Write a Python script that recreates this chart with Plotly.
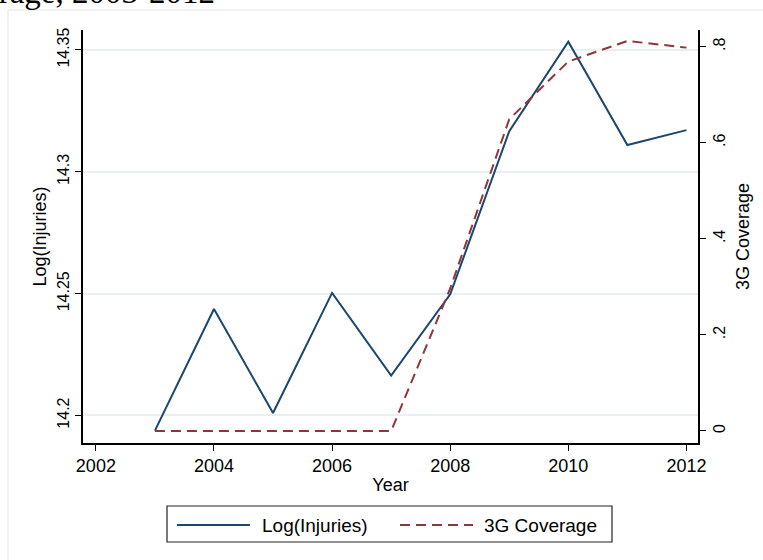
import plotly.graph_objects as go

# Annual series, 2003-2012
years = [2003, 2004, 2005, 2006, 2007, 2008, 2009, 2010, 2011, 2012]
log_injuries = [14.1938, 14.2437, 14.2010, 14.2503, 14.2164, 14.2497, 14.3167, 14.3534, 14.3110, 14.3171]
coverage_3g = [0.0, 0.0, 0.0, 0.0, 0.0, 0.2966, 0.649, 0.769, 0.812, 0.798]

x_ticks = [2002, 2004, 2006, 2008, 2010, 2012]
left_ticks = [14.2, 14.25, 14.3, 14.35]
left_tick_text = ["14.2", "14.25", "14.3", "14.35"]
right_ticks = [0, 0.2, 0.4, 0.6, 0.8]
right_tick_text = ["0", ".2", ".4", ".6", ".8"]

NAVY = "#1a476f"
MAROON = "#90353b"
GRID = "#e9f0f3"
FONT = "Liberation Sans, Arial, sans-serif"

W, H = 763, 560
ML, MR, MT, MB = 83, 65, 30, 117
PW, PH = W - ML - MR, H - MT - MB


def px_x(x):
    return (x - ML) / PW


def px_y(y):
    return (H - MB - y) / PH


fig = go.Figure()
fig.add_trace(go.Scatter(
    x=years, y=log_injuries, mode="lines", name="Log(Injuries)",
    line=dict(color=NAVY, width=2), yaxis="y", showlegend=False,
))
fig.add_trace(go.Scatter(
    x=years, y=coverage_3g, mode="lines", name="3G Coverage",
    line=dict(color=MAROON, width=2, dash="10px,6px"), yaxis="y2", showlegend=False,
))

shapes = []
annotations = []

# outer graph-region frame
shapes.append(dict(type="line", xref="paper", yref="paper",
                   x0=px_x(8), x1=px_x(W + 5), y0=px_y(10), y1=px_y(10),
                   line=dict(color="#eceeee", width=1.5)))
shapes.append(dict(type="line", xref="paper", yref="paper",
                   x0=px_x(8), x1=px_x(8), y0=px_y(10), y1=px_y(H + 5),
                   line=dict(color="#eceeee", width=1.5)))

# legend box
shapes.append(dict(type="rect", xref="paper", yref="paper",
                   x0=px_x(167), x1=px_x(612), y0=px_y(506), y1=px_y(542),
                   line=dict(color="#222222", width=1.2), fillcolor="white"))
shapes.append(dict(type="line", xref="paper", yref="paper",
                   x0=px_x(177), x1=px_x(250), y0=px_y(525), y1=px_y(525),
                   line=dict(color=NAVY, width=2)))
shapes.append(dict(type="line", xref="paper", yref="paper",
                   x0=px_x(400), x1=px_x(473), y0=px_y(525), y1=px_y(525),
                   line=dict(color=MAROON, width=2, dash="10px,6px")))
annotations.append(dict(text="Log(Injuries)", xref="paper", yref="paper",
                        x=px_x(260), y=px_y(525), xanchor="left", yanchor="middle",
                        showarrow=False, font=dict(family=FONT, size=19, color="black")))
annotations.append(dict(text="3G Coverage", xref="paper", yref="paper",
                        x=px_x(482), y=px_y(525), xanchor="left", yanchor="middle",
                        showarrow=False, font=dict(family=FONT, size=19, color="black")))

# caption text running off the top edge
annotations.append(dict(text="Coverage, 2003-2012", xref="paper", yref="paper",
                        x=px_x(217), y=px_y(12), xanchor="right", yanchor="bottom",
                        showarrow=False,
                        font=dict(family="Liberation Serif, serif", size=33, color="black")))

fig.update_layout(
    width=W, height=H,
    margin=dict(l=ML, r=MR, t=MT, b=MB),
    paper_bgcolor="white", plot_bgcolor="white",
    showlegend=False,
    font=dict(family=FONT, size=18, color="black"),
    shapes=shapes, annotations=annotations,
    xaxis=dict(
        range=[2001.782, 2012.196], tickvals=x_ticks, ticks="outside", ticklen=6,
        tickcolor="black", showline=True, linecolor="black", linewidth=1.5,
        showgrid=False, zeroline=False,
        title=dict(text="Year", standoff=3, font=dict(size=18)),
        tickfont=dict(size=18),
    ),
    yaxis=dict(
        range=[14.1887, 14.3582], tickvals=left_ticks, ticktext=left_tick_text,
        tickangle=-90, ticks="outside", ticklen=6, tickcolor="black",
        showline=True, linecolor="black", linewidth=1.5,
        showgrid=True, gridcolor=GRID, gridwidth=1.5, zeroline=False,
        title=dict(text="Log(Injuries)", standoff=4, font=dict(size=18)),
        tickfont=dict(size=16),
    ),
    yaxis2=dict(
        range=[-0.025, 0.8347], tickvals=right_ticks, ticktext=right_tick_text,
        tickangle=-90, ticks="outside", ticklen=6, tickcolor="black",
        overlaying="y", side="right",
        showline=True, linecolor="black", linewidth=1.5,
        showgrid=False, zeroline=False,
        title=dict(text="3G Coverage", standoff=9, font=dict(size=18)),
        tickfont=dict(size=16),
    ),
)

fig.write_html("out.html")
